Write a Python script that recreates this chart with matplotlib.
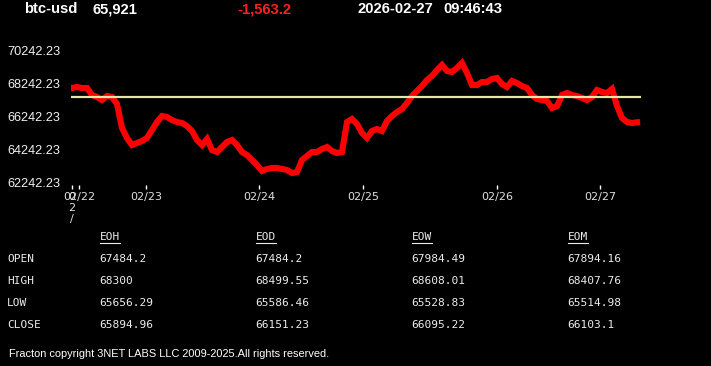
import matplotlib.pyplot as plt
import numpy as np

# header
symbol = 'btc-usd'
last_price = '65,921'
change = '-1,563.2'
date_str = '2026-02-27'
time_str = '09:46:43'

# price series (evenly spaced samples, 02/22 -> 02/27)
prices = [68000, 68060, 68000, 68000, 67576, 67454, 67273, 67515, 67454, 67030,
          65576, 64970, 64545, 64666, 64788, 64970, 65454, 65939, 66303, 66242,
          66060, 65939, 65879, 65697, 65394, 64848, 64545, 64909, 64242, 64121,
          64424, 64727, 64848, 64545, 64121, 63939, 63636, 63333, 62970, 63091,
          63151, 63151, 63091, 63030, 62848, 62909, 63636, 63879, 64121, 64121,
          64303, 64424, 64182, 64060, 64121, 65939, 66121, 65818, 65273, 64970,
          65394, 65515, 65394, 66000, 66303, 66545, 66727, 67091, 67515, 67818,
          68121, 68485, 68727, 69091, 69394, 69030, 68970, 69212, 69515, 68909,
          68182, 68182, 68363, 68363, 68545, 68606, 68242, 68060, 68424, 68303,
          68121, 68000, 67576, 67333, 67273, 67212, 66788, 66909, 67576, 67697,
          67576, 67515, 67394, 67273, 67454, 67879, 67757, 67697, 67939, 66909,
          66182, 65939, 65879, 65921]
ref_price = 67484.2

y_ticks = [62242.23, 64242.23, 66242.23, 68242.23, 70242.23]
x_tick_pos = [0, 1.4, 14.8, 37.4, 58.2, 85, 105.6]
x_tick_labels = ['0\n2\n/', '02/22', '02/23', '02/24', '02/25', '02/26', '02/27']

# stats table
col_names = ['EOH', 'EOD', 'EOW', 'EOM']
row_names = ['OPEN', 'HIGH', 'LOW', 'CLOSE']
stats = [['67484.2', '67484.2', '67984.49', '67894.16'],
         ['68300', '68499.55', '68608.01', '68407.76'],
         ['65656.29', '65586.46', '65528.83', '65514.98'],
         ['65894.96', '66151.23', '66095.22', '66103.1']]

footer = 'Fracton copyright 3NET LABS LLC 2009-2025.All rights reserved.'

W, H = 711, 366
fig = plt.figure(figsize=(W / 100, H / 100), dpi=100, facecolor='black')


def px(x, y):
    return x / W, 1 - y / H


# chart area
ax = fig.add_axes([71 / W, 1 - 185 / H, 570 / W, 137 / H], facecolor='black')
x = np.arange(len(prices))
ax.plot(x, prices, color='#ff0000', lw=4.4, solid_joinstyle='miter')
ax.axhline(ref_price, color='#e6e6a6', lw=1.6)
ax.set_xlim(-0.2, 113.8)
ax.set_ylim(62121, 70424)
for s in ax.spines.values():
    s.set_visible(False)

ax.set_yticks(y_ticks)
ax.set_yticklabels([f'{v:.2f}' for v in y_ticks])
ax.tick_params(axis='y', length=0, pad=45.5, labelsize=9.2, labelcolor='#f0f0f0')
for lbl in ax.get_yticklabels():
    lbl.set_ha('left')
    lbl.set_family('Liberation Sans')

ax.set_xticks(x_tick_pos)
ax.set_xticklabels(x_tick_labels)
ax.tick_params(axis='x', direction='out', length=3, width=1, color='white',
               pad=2, labelsize=8, labelcolor='#e0e0e0')
for lbl in ax.get_xticklabels():
    lbl.set_family('DejaVu Sans')
    lbl.set_linespacing(1.15)

# header
hdr = dict(color='white', fontsize=10.6, fontweight='bold', va='center',
           family='Liberation Sans')
fig.text(*px(24, 9), symbol, **hdr)
fig.text(*px(92, 9), last_price, **hdr)
fig.text(*px(237, 9), change, **{**hdr, 'color': '#ff2020'})
fig.text(*px(357, 9), date_str, **hdr)
fig.text(*px(443, 9), time_str, **hdr)

# stats table
mono = dict(color='#ececec', fontsize=8, va='center', family='DejaVu Sans Mono')
col_x = [99, 255, 411, 567]
row_y = [259, 281, 303, 325]
heads = []
for cx, name in zip(col_x, col_names):
    heads.append(fig.text(*px(cx + 1, 237), name, **mono))
for ry, rname, vals in zip(row_y, row_names, stats):
    fig.text(*px(7, ry), rname, **mono)
    for cx, v in zip(col_x, vals):
        fig.text(*px(cx, ry), v, **mono)

fig.canvas.draw()
for t in heads:
    bb = t.get_window_extent()
    fig.add_artist(plt.Line2D([bb.x0 / W, bb.x1 / W], [px(0, 243)[1]] * 2,
                              color='#ececec', lw=0.8, transform=fig.transFigure))

fig.text(*px(9, 354), footer, color='white', fontsize=7.95, va='center',
         family='Liberation Sans')

fig.savefig('out.png', dpi=100, facecolor='black')
